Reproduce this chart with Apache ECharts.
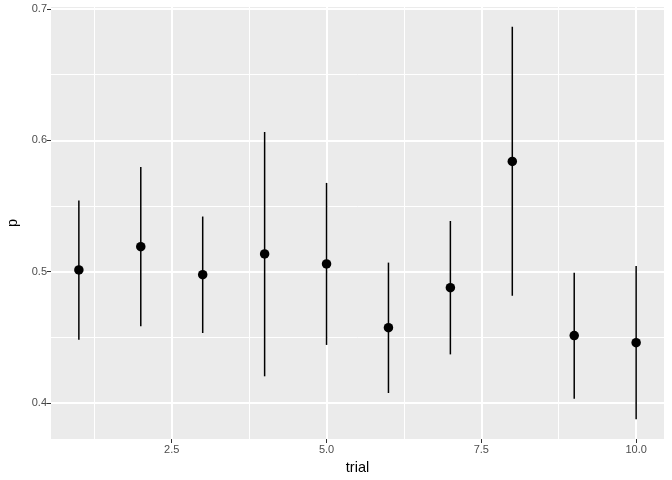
<!DOCTYPE html>
<html>
<head>
<meta charset="utf-8">
<script src="https://cdn.jsdelivr.net/npm/echarts@6/dist/echarts.min.js"></script>
<style>
html,body{margin:0;padding:0;background:#fff;}
#c{width:672px;height:480px;}
</style>
</head>
<body>
<div id="c"></div>
<script>
// Data
const trial = [1, 2, 3, 4, 5, 6, 7, 8, 9, 10];
const p     = [0.5013, 0.5190, 0.4977, 0.5135, 0.5059, 0.4573, 0.4878, 0.5840, 0.4513, 0.4459];
const lower = [0.4482, 0.4584, 0.4533, 0.4203, 0.4442, 0.4076, 0.4370, 0.4817, 0.4033, 0.3875];
const upper = [0.5543, 0.5797, 0.5420, 0.6064, 0.5676, 0.5069, 0.5386, 0.6866, 0.4992, 0.5043];

// Axis breaks
const xMajor = [2.5, 5.0, 7.5, 10.0];
const xMinor = [1.25, 3.75, 6.25, 8.75];
const yMajor = [0.4, 0.5, 0.6, 0.7];
const yMinor = [0.45, 0.55, 0.65];
const xLimits = [0.55, 10.45];
const yLimits = [0.37255, 0.70159];

const font = '"Liberation Sans", Arial, Helvetica, sans-serif';

const chart = echarts.init(document.getElementById('c'), null, {renderer: 'canvas'});

const rangeData = trial.map((t, i) => [t, lower[i], upper[i]]);
const pointData = trial.map((t, i) => [t, p[i]]);

const majorAxisCommon = {
  axisLine: {show: false},
  axisTick: {show: true, length: 4, lineStyle: {color: '#333333', width: 1}},
  splitLine: {show: true, lineStyle: {color: '#ffffff', width: 2}},
  axisLabel: {color: '#4D4D4D', fontSize: 11, fontFamily: font}
};

chart.setOption({
  animation: false,
  backgroundColor: '#ffffff',
  grid: {
    left: 51, right: 8, top: 7, bottom: 41,
    show: true, backgroundColor: '#EBEBEB', borderWidth: 0,
    containLabel: false, outerBoundsMode: 'none'
  },
  xAxis: [
    {
      type: 'value', min: xLimits[0], max: xLimits[1], position: 'bottom',
      axisLine: {show: false}, axisTick: {show: false, customValues: xMinor}, axisLabel: {show: false, customValues: xMinor},
      splitLine: {show: true, lineStyle: {color: '#ffffff', width: 1}}
    },
    Object.assign({}, majorAxisCommon, {
      type: 'value', min: xLimits[0], max: xLimits[1], position: 'bottom',
      axisTick: Object.assign({}, majorAxisCommon.axisTick, {customValues: xMajor}),
      axisLabel: Object.assign({}, majorAxisCommon.axisLabel, {customValues: xMajor, margin: 5,
        formatter: v => v.toFixed(1)}),
      name: 'trial', nameLocation: 'middle', nameGap: 21,
      nameTextStyle: {color: '#000000', fontSize: 14.5, fontFamily: font}
    })
  ],
  yAxis: [
    {
      type: 'value', min: yLimits[0], max: yLimits[1], position: 'left',
      axisLine: {show: false}, axisTick: {show: false, customValues: yMinor}, axisLabel: {show: false, customValues: yMinor},
      splitLine: {show: true, lineStyle: {color: '#ffffff', width: 1}}
    },
    Object.assign({}, majorAxisCommon, {
      type: 'value', min: yLimits[0], max: yLimits[1], position: 'left',
      axisTick: Object.assign({}, majorAxisCommon.axisTick, {customValues: yMajor}),
      axisLabel: Object.assign({}, majorAxisCommon.axisLabel, {customValues: yMajor, margin: 4,
        formatter: v => v.toFixed(1)}),
      name: 'p', nameLocation: 'middle', nameGap: 30, nameRotate: 90,
      nameTextStyle: {color: '#000000', fontSize: 14.5, fontFamily: font}
    })
  ],
  series: [
    {
      type: 'custom',
      xAxisIndex: 1, yAxisIndex: 1,
      data: rangeData,
      z: 3,
      renderItem: function (params, api) {
        const a = api.coord([api.value(0), api.value(1)]);
        const b = api.coord([api.value(0), api.value(2)]);
        return {
          type: 'line',
          shape: {x1: a[0], y1: a[1], x2: b[0], y2: b[1]},
          style: {stroke: '#000000', lineWidth: 1.5}
        };
      }
    },
    {
      type: 'scatter',
      xAxisIndex: 1, yAxisIndex: 1,
      data: pointData,
      symbol: 'circle',
      symbolSize: 9.5,
      z: 4,
      itemStyle: {color: '#000000', opacity: 1}
    }
  ]
});
</script>
</body>
</html>
